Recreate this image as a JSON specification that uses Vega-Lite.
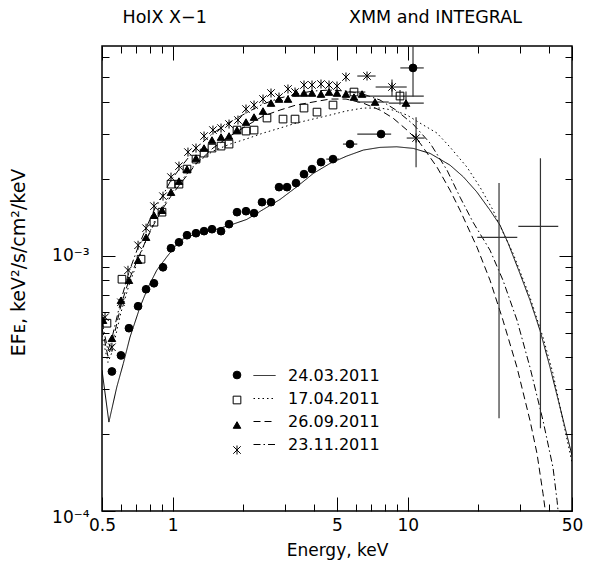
{
"$schema": "https://vega.github.io/schema/vega-lite/v6.json",
"width": 470, "height": 465,
"autosize": {"type": "none"},
"padding": {"left": 102, "top": 46, "right": 23, "bottom": 54},
"config": {
  "view": {"stroke": "black", "strokeWidth": 1.5},
  "font": "DejaVu Sans",
  "axis": {"grid": false, "domain": false, "tickColor": "black", "labelColor": "black", "titleColor": "black", "labelFont": "DejaVu Sans", "titleFont": "DejaVu Sans", "titleFontWeight": "normal", "tickWidth": 1, "labelFlush": false, "labelOverlap": false, "labelBound": false}
},
"datasets": {
  "pts": [
    {"obs":"24.03.2011","E":0.551,"F":0.000352},{"obs":"24.03.2011","E":0.602,"F":0.000407},{"obs":"24.03.2011","E":0.651,"F":0.00052},{"obs":"24.03.2011","E":0.712,"F":0.000634},{"obs":"24.03.2011","E":0.770,"F":0.000739},{"obs":"24.03.2011","E":0.832,"F":0.00078},{"obs":"24.03.2011","E":0.909,"F":0.000901},{"obs":"24.03.2011","E":0.983,"F":0.00107},{"obs":"24.03.2011","E":1.063,"F":0.001129},{"obs":"24.03.2011","E":1.150,"F":0.001203},{"obs":"24.03.2011","E":1.256,"F":0.001225},{"obs":"24.03.2011","E":1.359,"F":0.001248},{"obs":"24.03.2011","E":1.469,"F":0.00127},{"obs":"24.03.2011","E":1.605,"F":0.001248},{"obs":"24.03.2011","E":1.736,"F":0.001329},{"obs":"24.03.2011","E":1.877,"F":0.001481},{"obs":"24.03.2011","E":2.050,"F":0.001494},{"obs":"24.03.2011","E":2.218,"F":0.001468},{"obs":"24.03.2011","E":2.398,"F":0.001621},{"obs":"24.03.2011","E":2.619,"F":0.001621},{"obs":"24.03.2011","E":2.833,"F":0.001856},{"obs":"24.03.2011","E":3.064,"F":0.001856},{"obs":"24.03.2011","E":3.346,"F":0.001925},{"obs":"24.03.2011","E":3.619,"F":0.002087},{"obs":"24.03.2011","E":3.914,"F":0.002184},{"obs":"24.03.2011","E":4.274,"F":0.002326},{"obs":"24.03.2011","E":4.808,"F":0.00239},{"obs":"24.03.2011","E":5.68,"F":0.002737},{"obs":"24.03.2011","E":7.70,"F":0.002996},{"obs":"24.03.2011","E":10.53,"F":0.00544},
    {"obs":"17.04.2011","E":0.525,"F":0.000544},{"obs":"17.04.2011","E":0.608,"F":0.000809},{"obs":"17.04.2011","E":0.733,"F":0.000969},{"obs":"17.04.2011","E":0.832,"F":0.001353},{"obs":"17.04.2011","E":0.900,"F":0.001481},{"obs":"17.04.2011","E":0.983,"F":0.001907},{"obs":"17.04.2011","E":1.063,"F":0.001907},{"obs":"17.04.2011","E":1.150,"F":0.002184},{"obs":"17.04.2011","E":1.256,"F":0.00239},{"obs":"17.04.2011","E":1.359,"F":0.002523},{"obs":"17.04.2011","E":1.469,"F":0.00264},{"obs":"17.04.2011","E":1.605,"F":0.002688},{"obs":"17.04.2011","E":1.736,"F":0.002737},{"obs":"17.04.2011","E":1.877,"F":0.003106},{"obs":"17.04.2011","E":2.050,"F":0.003078},{"obs":"17.04.2011","E":2.218,"F":0.003106},{"obs":"17.04.2011","E":2.518,"F":0.003462},{"obs":"17.04.2011","E":2.946,"F":0.00343},{"obs":"17.04.2011","E":3.314,"F":0.00343},{"obs":"17.04.2011","E":3.619,"F":0.003788},{"obs":"17.04.2011","E":4.110,"F":0.003653},{"obs":"17.04.2011","E":4.808,"F":0.003892},{"obs":"17.04.2011","E":5.906,"F":0.004377},{"obs":"17.04.2011","E":9.27,"F":0.004222},
    {"obs":"26.09.2011","E":0.505,"F":0.000559},{"obs":"26.09.2011","E":0.551,"F":0.000475},{"obs":"26.09.2011","E":0.602,"F":0.000669},{"obs":"26.09.2011","E":0.651,"F":0.000802},{"obs":"26.09.2011","E":0.712,"F":0.00096},{"obs":"26.09.2011","E":0.770,"F":0.001182},{"obs":"26.09.2011","E":0.832,"F":0.001442},{"obs":"26.09.2011","E":0.900,"F":0.001508},{"obs":"26.09.2011","E":0.983,"F":0.001774},{"obs":"26.09.2011","E":1.063,"F":0.00196},{"obs":"26.09.2011","E":1.150,"F":0.002184},{"obs":"26.09.2011","E":1.256,"F":0.002412},{"obs":"26.09.2011","E":1.359,"F":0.00264},{"obs":"26.09.2011","E":1.469,"F":0.002838},{"obs":"26.09.2011","E":1.605,"F":0.002916},{"obs":"26.09.2011","E":1.736,"F":0.002943},{"obs":"26.09.2011","E":1.877,"F":0.003106},{"obs":"26.09.2011","E":2.050,"F":0.003338},{"obs":"26.09.2011","E":2.218,"F":0.003492},{"obs":"26.09.2011","E":2.422,"F":0.003687},{"obs":"26.09.2011","E":2.619,"F":0.003963},{"obs":"26.09.2011","E":2.833,"F":0.004109},{"obs":"26.09.2011","E":3.093,"F":0.004109},{"obs":"26.09.2011","E":3.346,"F":0.004338},{"obs":"26.09.2011","E":3.619,"F":0.004338},{"obs":"26.09.2011","E":3.914,"F":0.004338},{"obs":"26.09.2011","E":4.274,"F":0.004299},{"obs":"26.09.2011","E":4.624,"F":0.004377},{"obs":"26.09.2011","E":5.0,"F":0.004338},{"obs":"26.09.2011","E":5.46,"F":0.004299},{"obs":"26.09.2011","E":5.906,"F":0.004184},{"obs":"26.09.2011","E":6.39,"F":0.004299},{"obs":"26.09.2011","E":7.26,"F":0.004},{"obs":"26.09.2011","E":9.83,"F":0.003963},
    {"obs":"23.11.2011","E":0.515,"F":0.000574},{"obs":"23.11.2011","E":0.551,"F":0.000438},{"obs":"23.11.2011","E":0.602,"F":0.000657},{"obs":"23.11.2011","E":0.645,"F":0.000877},{"obs":"23.11.2011","E":0.712,"F":0.001099},{"obs":"23.11.2011","E":0.770,"F":0.001282},{"obs":"23.11.2011","E":0.832,"F":0.001564},{"obs":"23.11.2011","E":0.909,"F":0.001711},{"obs":"23.11.2011","E":0.983,"F":0.002032},{"obs":"23.11.2011","E":1.063,"F":0.002244},{"obs":"23.11.2011","E":1.161,"F":0.002546},{"obs":"23.11.2011","E":1.256,"F":0.00264},{"obs":"23.11.2011","E":1.359,"F":0.002943},{"obs":"23.11.2011","E":1.483,"F":0.003106},{"obs":"23.11.2011","E":1.605,"F":0.003162},{"obs":"23.11.2011","E":1.736,"F":0.003279},{"obs":"23.11.2011","E":1.895,"F":0.0034},{"obs":"23.11.2011","E":2.050,"F":0.003754},{"obs":"23.11.2011","E":2.218,"F":0.003892},{"obs":"23.11.2011","E":2.422,"F":0.004109},{"obs":"23.11.2011","E":2.619,"F":0.004338},{"obs":"23.11.2011","E":2.833,"F":0.004184},{"obs":"23.11.2011","E":3.093,"F":0.004498},{"obs":"23.11.2011","E":3.314,"F":0.004377},{"obs":"23.11.2011","E":3.619,"F":0.004663},{"obs":"23.11.2011","E":3.914,"F":0.004663},{"obs":"23.11.2011","E":4.274,"F":0.004705},{"obs":"23.11.2011","E":4.624,"F":0.004663},{"obs":"23.11.2011","E":5.0,"F":0.004621},{"obs":"23.11.2011","E":5.46,"F":0.005012},{"obs":"23.11.2011","E":6.71,"F":0.005057},{"obs":"23.11.2011","E":8.57,"F":0.00458},{"obs":"23.11.2011","E":10.85,"F":0.00289}
  ],
  "err": [
    {"E":4.808,"F":0.00239,"Elo":4.5,"Ehi":5.1},
    {"E":5.68,"F":0.002737,"Elo":5.3,"Ehi":6.1},
    {"E":7.70,"F":0.002996,"Elo":6.1,"Ehi":8.5},
    {"E":10.53,"F":0.00544,"Elo":9.3,"Ehi":11.7,"Flo":0.0042,"Fhi":0.007},
    {"E":5.906,"F":0.004377,"Elo":5.4,"Ehi":6.6},
    {"E":9.27,"F":0.004222,"Elo":6.5,"Ehi":11.7,"Flo":0.0039,"Fhi":0.00446},
    {"E":7.26,"F":0.004,"Elo":6.1,"Ehi":8.3},
    {"E":9.83,"F":0.003963,"Elo":8.3,"Ehi":11.7,"Flo":0.00375,"Fhi":0.0044},
    {"E":6.71,"F":0.005057,"Elo":6.1,"Ehi":7.3},
    {"E":8.57,"F":0.00458,"Elo":7.3,"Ehi":9.9,"Flo":0.0042,"Fhi":0.0049},
    {"E":10.85,"F":0.00289,"Elo":9.9,"Ehi":11.8,"Flo":0.00222,"Fhi":0.00349},
    {"E":24.46,"F":0.001179,"Elo":19.77,"Ehi":29.25,"Flo":0.0002306,"Fhi":0.001925},
    {"E":36.7,"F":0.001302,"Elo":29.55,"Ehi":43.7,"Flo":0.0002107,"Fhi":0.00241}
  ],
  "curves": [
    {"model":"24.03.2011","E":0.5,"F":0.000356},{"model":"24.03.2011","E":0.535,"F":0.000223},{"model":"24.03.2011","E":0.578,"F":0.000306},{"model":"24.03.2011","E":0.616,"F":0.000378},{"model":"24.03.2011","E":0.658,"F":0.00048},{"model":"24.03.2011","E":0.726,"F":0.00063},{"model":"24.03.2011","E":0.787,"F":0.000755},{"model":"24.03.2011","E":0.855,"F":0.000877},{"model":"24.03.2011","E":0.943,"F":0.000989},{"model":"24.03.2011","E":1.074,"F":0.00115},{"model":"24.03.2011","E":1.265,"F":0.001222},{"model":"24.03.2011","E":1.488,"F":0.001259},{"model":"24.03.2011","E":1.753,"F":0.001317},{"model":"24.03.2011","E":2.064,"F":0.001387},{"model":"24.03.2011","E":2.429,"F":0.001518},{"model":"24.03.2011","E":2.861,"F":0.001661},{"model":"24.03.2011","E":3.370,"F":0.001861},{"model":"24.03.2011","E":3.965,"F":0.002101},{"model":"24.03.2011","E":4.669,"F":0.002299},{"model":"24.03.2011","E":5.499,"F":0.002456},{"model":"24.03.2011","E":6.47,"F":0.002593},{"model":"24.03.2011","E":7.62,"F":0.002657},{"model":"24.03.2011","E":8.97,"F":0.002671},{"model":"24.03.2011","E":10.56,"F":0.002633},{"model":"24.03.2011","E":12.44,"F":0.002517},{"model":"24.03.2011","E":15.13,"F":0.002264},{"model":"24.03.2011","E":17.24,"F":0.002037},{"model":"24.03.2011","E":19.66,"F":0.001779},{"model":"24.03.2011","E":22.39,"F":0.001508},{"model":"24.03.2011","E":24.7,"F":0.001317},{"model":"24.03.2011","E":26.78,"F":0.001116},{"model":"24.03.2011","E":30.03,"F":0.000851},{"model":"24.03.2011","E":33.14,"F":0.000669},{"model":"24.03.2011","E":36.54,"F":0.00051},{"model":"24.03.2011","E":40.31,"F":0.000366},{"model":"24.03.2011","E":44.45,"F":0.000255},{"model":"24.03.2011","E":50.0,"F":0.000165},
    {"model":"17.04.2011","E":0.5,"F":0.000488},{"model":"17.04.2011","E":0.530,"F":0.000382},{"model":"17.04.2011","E":0.551,"F":0.000418},{"model":"17.04.2011","E":0.602,"F":0.0006},{"model":"17.04.2011","E":0.651,"F":0.000766},{"model":"17.04.2011","E":0.712,"F":0.00096},{"model":"17.04.2011","E":0.770,"F":0.00115},{"model":"17.04.2011","E":0.832,"F":0.001353},{"model":"17.04.2011","E":0.909,"F":0.001564},{"model":"17.04.2011","E":0.983,"F":0.001759},{"model":"17.04.2011","E":1.074,"F":0.001942},{"model":"17.04.2011","E":1.256,"F":0.002305},{"model":"17.04.2011","E":1.483,"F":0.002569},{"model":"17.04.2011","E":1.753,"F":0.002737},{"model":"17.04.2011","E":2.050,"F":0.002864},{"model":"17.04.2011","E":2.422,"F":0.003022},{"model":"17.04.2011","E":2.861,"F":0.003162},{"model":"17.04.2011","E":3.346,"F":0.003308},{"model":"17.04.2011","E":3.953,"F":0.00343},{"model":"17.04.2011","E":4.669,"F":0.003556},{"model":"17.04.2011","E":5.46,"F":0.003687},{"model":"17.04.2011","E":6.45,"F":0.003788},{"model":"17.04.2011","E":7.62,"F":0.003788},{"model":"17.04.2011","E":8.65,"F":0.00372},{"model":"17.04.2011","E":9.93,"F":0.003556},{"model":"17.04.2011","E":11.28,"F":0.003308},{"model":"17.04.2011","E":13.32,"F":0.003022},{"model":"17.04.2011","E":15.13,"F":0.002664},{"model":"17.04.2011","E":17.87,"F":0.002223},{"model":"17.04.2011","E":20.30,"F":0.001856},{"model":"17.04.2011","E":23.06,"F":0.001508},{"model":"17.04.2011","E":25.42,"F":0.001237},{"model":"17.04.2011","E":28.05,"F":0.001023},{"model":"17.04.2011","E":33.14,"F":0.000687},{"model":"17.04.2011","E":37.64,"F":0.000479},{"model":"17.04.2011","E":41.51,"F":0.000346},{"model":"17.04.2011","E":45.77,"F":0.000226},{"model":"17.04.2011","E":50,"F":0.000155},
    {"model":"26.09.2011","E":0.5,"F":0.00052},{"model":"26.09.2011","E":0.530,"F":0.000404},{"model":"26.09.2011","E":0.551,"F":0.000446},{"model":"26.09.2011","E":0.602,"F":0.00064},{"model":"26.09.2011","E":0.651,"F":0.000802},{"model":"26.09.2011","E":0.712,"F":0.000978},{"model":"26.09.2011","E":0.770,"F":0.00115},{"model":"26.09.2011","E":0.832,"F":0.001329},{"model":"26.09.2011","E":0.909,"F":0.001536},{"model":"26.09.2011","E":0.983,"F":0.001711},{"model":"26.09.2011","E":1.074,"F":0.001907},{"model":"26.09.2011","E":1.256,"F":0.002285},{"model":"26.09.2011","E":1.483,"F":0.00264},{"model":"26.09.2011","E":1.753,"F":0.002943},{"model":"26.09.2011","E":2.050,"F":0.003219},{"model":"26.09.2011","E":2.422,"F":0.003524},{"model":"26.09.2011","E":2.861,"F":0.00372},{"model":"26.09.2011","E":3.346,"F":0.003892},{"model":"26.09.2011","E":3.953,"F":0.004},{"model":"26.09.2011","E":4.669,"F":0.004109},{"model":"26.09.2011","E":5.46,"F":0.004109},{"model":"26.09.2011","E":6.45,"F":0.003963},{"model":"26.09.2011","E":7.62,"F":0.00372},{"model":"26.09.2011","E":8.65,"F":0.003462},{"model":"26.09.2011","E":9.93,"F":0.003106},{"model":"26.09.2011","E":11.28,"F":0.002762},{"model":"26.09.2011","E":13.32,"F":0.002223},{"model":"26.09.2011","E":15.13,"F":0.001807},{"model":"26.09.2011","E":16.69,"F":0.001508},{"model":"26.09.2011","E":19.71,"F":0.00108},{"model":"26.09.2011","E":22.39,"F":0.000802},{"model":"26.09.2011","E":25.42,"F":0.000559},{"model":"26.09.2011","E":29.17,"F":0.000365},{"model":"26.09.2011","E":33.14,"F":0.000226},{"model":"26.09.2011","E":35.48,"F":0.000168},{"model":"26.09.2011","E":37.64,"F":0.000117},{"model":"26.09.2011","E":39.5,"F":0.0000839},
    {"model":"23.11.2011","E":0.5,"F":0.000549},{"model":"23.11.2011","E":0.530,"F":0.000426},{"model":"23.11.2011","E":0.551,"F":0.000475},{"model":"23.11.2011","E":0.602,"F":0.000669},{"model":"23.11.2011","E":0.651,"F":0.000862},{"model":"23.11.2011","E":0.712,"F":0.00108},{"model":"23.11.2011","E":0.770,"F":0.001282},{"model":"23.11.2011","E":0.832,"F":0.001508},{"model":"23.11.2011","E":0.909,"F":0.001727},{"model":"23.11.2011","E":0.983,"F":0.001978},{"model":"23.11.2011","E":1.074,"F":0.002203},{"model":"23.11.2011","E":1.256,"F":0.00264},{"model":"23.11.2011","E":1.483,"F":0.003022},{"model":"23.11.2011","E":1.753,"F":0.003338},{"model":"23.11.2011","E":2.050,"F":0.003621},{"model":"23.11.2011","E":2.422,"F":0.003928},{"model":"23.11.2011","E":2.861,"F":0.004147},{"model":"23.11.2011","E":3.346,"F":0.004299},{"model":"23.11.2011","E":3.953,"F":0.004417},{"model":"23.11.2011","E":4.669,"F":0.004457},{"model":"23.11.2011","E":5.46,"F":0.004417},{"model":"23.11.2011","E":6.45,"F":0.004299},{"model":"23.11.2011","E":7.62,"F":0.004073},{"model":"23.11.2011","E":8.91,"F":0.00372},{"model":"23.11.2011","E":10.53,"F":0.003279},{"model":"23.11.2011","E":12.44,"F":0.002762},{"model":"23.11.2011","E":14.69,"F":0.002164},{"model":"23.11.2011","E":16.69,"F":0.001696},{"model":"23.11.2011","E":18.96,"F":0.001353},{"model":"23.11.2011","E":22.39,"F":0.001051},{"model":"23.11.2011","E":25.42,"F":0.000802},{"model":"23.11.2011","E":29.17,"F":0.000559},{"model":"23.11.2011","E":33.14,"F":0.000365},{"model":"23.11.2011","E":37.64,"F":0.000226},{"model":"23.11.2011","E":41.51,"F":0.000148},{"model":"23.11.2011","E":43.18,"F":0.00011},{"model":"23.11.2011","E":44.45,"F":0.0000839}
  ]
},
"resolve": {"axis": {"x": "independent", "y": "independent"}},
"layer": [
  {
    "data": {"name": "curves"},
    "mark": {"type": "line", "clip": true, "color": "black", "strokeWidth": 1},
    "encoding": {
      "x": {"field": "E", "type": "quantitative", "scale": {"type": "log", "domain": [0.5, 50]},
        "axis": {"orient": "bottom", "offset": -14, "tickSize": 14, "values": [0.5, 1, 5, 10, 50],
          "labelExpr": "format(datum.value, '~g')", "labelFontSize": 17, "labelPadding": 6,
          "title": "Energy, keV", "titleFontSize": 17, "titleX": 235, "titleY": 58, "titleBaseline": "alphabetic", "titleAlign": "center"}},
      "y": {"field": "F", "type": "quantitative", "scale": {"type": "log", "domain": [0.0001, 0.00663]},
        "axis": {"orient": "left", "offset": -13, "tickSize": 13, "values": [0.0001, 0.001],
          "labelExpr": "datum.value > 0.0005 ? '10⁻³' : ''", "labelFontSize": 17, "labelPadding": 13,
          "title": "EFᴇ, keV²/s/cm²/keV", "titleFontSize": 19, "titleX": -97, "titleY": 216, "titleAngle": -90, "titleBaseline": "middle", "titleAlign": "center"}},
      "strokeDash": {"field": "model", "type": "nominal",
        "scale": {"domain": ["24.03.2011","17.04.2011","26.09.2011","23.11.2011"], "range": [[1,0],[1.5,3],[7,4],[7,3,1.5,3]]},
        "legend": {"title": null, "orient": "none", "legendX": 151, "legendY": 318, "symbolType": "stroke", "symbolSize": 484, "symbolStrokeColor": "black", "symbolStrokeWidth": 1, "labelFontSize": 16, "labelOffset": 12, "rowPadding": 3, "padding": 0, "labelColor": "black", "labelFont": "DejaVu Sans"}}
    }
  },
  {
    "data": {"name": "err"},
    "transform": [{"filter": "isValid(datum.Elo)"}],
    "mark": {"type": "rule", "clip": true, "color": "#333", "strokeWidth": 1.2},
    "encoding": {
      "x": {"field": "Elo", "type": "quantitative", "scale": {"type": "log", "domain": [0.5, 50]},
        "axis": {"orient": "bottom", "offset": -7, "tickSize": 7, "values": [0.6,0.7,0.8,0.9,2,3,4,6,7,8,9,20,30,40], "labels": false, "title": null}},
      "x2": {"field": "Ehi"},
      "y": {"field": "F", "type": "quantitative", "scale": {"type": "log", "domain": [0.0001, 0.00663]},
        "axis": {"orient": "left", "offset": -7, "tickSize": 7, "values": [0.0001,0.0002,0.0003,0.0004,0.0005,0.0006,0.0007,0.0008,0.0009,0.002,0.003,0.004,0.005,0.006],
          "labelExpr": "datum.value < 0.00015 ? '10⁻⁴' : ''", "labelFontSize": 17, "labelPadding": 13, "labelOffset": 6, "title": null}}
    }
  },
  {
    "data": {"name": "err"},
    "transform": [{"filter": "isValid(datum.Flo)"}],
    "mark": {"type": "rule", "clip": true, "color": "#333", "strokeWidth": 1.2},
    "encoding": {
      "x": {"field": "E", "type": "quantitative", "scale": {"type": "log", "domain": [0.5, 50]},
        "axis": {"orient": "top", "offset": -7, "tickSize": 7, "values": [0.6,0.7,0.8,0.9,2,3,4,6,7,8,9,20,30,40], "labels": false,
          "title": "HoIX X−1", "titleFontSize": 17.5, "titleX": 20, "titleY": -31, "titleBaseline": "alphabetic", "titleAlign": "left"}},
      "y": {"field": "Flo", "type": "quantitative", "scale": {"type": "log", "domain": [0.0001, 0.00663]},
        "axis": {"orient": "right", "offset": -7, "tickSize": 7, "values": [0.0002,0.0003,0.0004,0.0005,0.0006,0.0007,0.0008,0.0009,0.002,0.003,0.004,0.005,0.006], "labels": false, "title": null}},
      "y2": {"field": "Fhi"}
    }
  },
  {
    "data": {"name": "pts"},
    "mark": {"type": "point", "filled": true, "clip": true, "stroke": "black", "strokeWidth": 1, "opacity": 1},
    "encoding": {
      "x": {"field": "E", "type": "quantitative", "scale": {"type": "log", "domain": [0.5, 50]},
        "axis": {"orient": "top", "offset": -14, "tickSize": 14, "values": [0.5, 1, 5, 10, 50], "labels": false,
          "title": "XMM and INTEGRAL", "titleFontSize": 17.5, "titleX": 333, "titleY": -38, "titleBaseline": "alphabetic", "titleAlign": "center"}},
      "y": {"field": "F", "type": "quantitative", "scale": {"type": "log", "domain": [0.0001, 0.00663]},
        "axis": {"orient": "right", "offset": -13, "tickSize": 13, "values": [0.0001, 0.001], "labels": false, "title": null}},
      "shape": {"field": "obs", "type": "nominal",
        "scale": {"domain": ["24.03.2011","17.04.2011","26.09.2011","23.11.2011","INTEGRAL"], "range": ["circle","square","triangle-up","M-1,-1L1,1M-1,1L1,-1M0,-1.2L0,1.2","circle"]},
        "legend": {"title": null, "values": ["24.03.2011","17.04.2011","26.09.2011","23.11.2011"], "orient": "none", "legendX": 127, "legendY": 321, "labelExpr": "''", "labelFontSize": 16, "rowPadding": 9, "padding": 0, "symbolStrokeColor": "black", "symbolStrokeWidth": 1}},
      "fill": {"field": "obs", "type": "nominal",
        "scale": {"domain": ["24.03.2011","17.04.2011","26.09.2011","23.11.2011","INTEGRAL"], "range": ["black","transparent","black","transparent","black"]}},
      "size": {"field": "obs", "type": "nominal",
        "scale": {"domain": ["24.03.2011","17.04.2011","26.09.2011","23.11.2011","INTEGRAL"], "range": [60,55,60,80,60]}}
    }
  }
]
}
